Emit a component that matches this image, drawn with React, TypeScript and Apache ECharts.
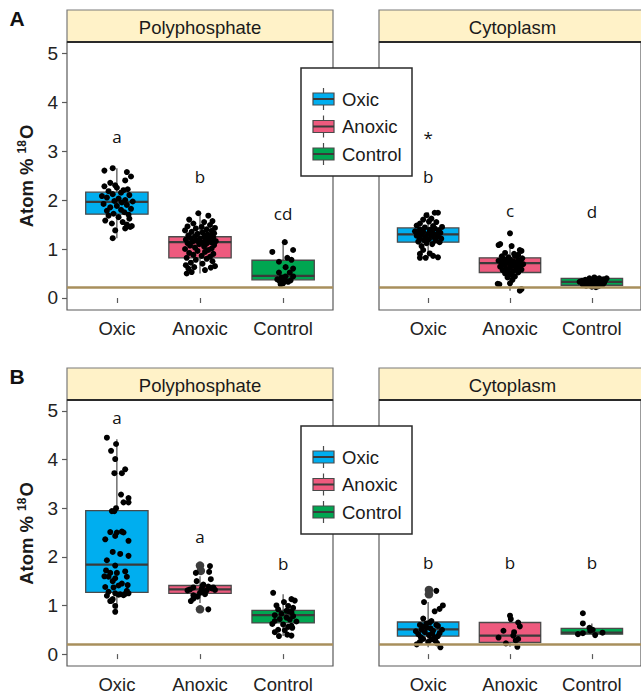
import React, { useEffect, useRef } from "react";
import * as echarts from "echarts";

const categories = ["Oxic", "Anoxic", "Control"];
const panelTitles = ["Polyphosphate", "Cytoplasm"];
const rowLabels = ["A", "B"];
const yTickValues = [0, 1, 2, 3, 4, 5];
const baselineValues = [0.22, 0.21];

// box stats: [lower whisker, Q1, median, Q3, upper whisker]
const boxA_Poly = [
  [1.22, 1.71, 1.96, 2.16, 2.65],
  [0.5, 0.82, 1.14, 1.25, 1.73],
  [0.27, 0.37, 0.45, 0.77, 1.14],
];
const boxA_Cyto = [
  [0.82, 1.14, 1.3, 1.43, 1.75],
  [0.15, 0.52, 0.71, 0.82, 1.1],
  [0.22, 0.26, 0.33, 0.4, 0.42],
];
const boxB_Poly = [
  [0.86, 1.27, 1.84, 2.95, 4.42],
  [1.05, 1.25, 1.33, 1.41, 1.6],
  [0.37, 0.64, 0.8, 0.9, 1.23],
];
const boxB_Cyto = [
  [0.14, 0.37, 0.51, 0.66, 1.07],
  [0.15, 0.24, 0.38, 0.65, 0.79],
  [0.39, 0.41, 0.44, 0.53, 0.63],
];

// letters: [category index, y, text]
const lettersA_Poly = [[0, 3.3, "a"], [1, 2.47, "b"], [2, 1.73, "cd"]];
const lettersA_Cyto = [[0, 3.28, "*"], [0, 2.49, "b"], [1, 1.78, "c"], [2, 1.76, "d"]];
const lettersB_Poly = [[0, 4.86, "a"], [1, 2.42, "a"], [2, 1.87, "b"]];
const lettersB_Cyto = [[0, 1.88, "b"], [1, 1.88, "b"], [2, 1.88, "b"]];

// jittered points: [jitter offset, value]
const ptsA_Poly_Oxic = [
  [-0.05, 2.65], [-0.15, 2.6], [0.12, 2.57], [0.17, 2.48], [0.1, 2.4], [-0.08, 2.35], [-0.02, 2.3],
  [-0.15, 2.28], [0.0, 2.25], [0.08, 2.2], [-0.1, 2.18], [0.05, 2.15], [-0.05, 2.12], [0.15, 2.1],
  [-0.12, 2.05], [0.02, 2.03], [0.1, 2.0], [-0.03, 1.98], [0.06, 1.95], [-0.16, 1.92], [0.12, 1.9],
  [0.0, 1.88], [-0.08, 1.85], [0.17, 1.82], [0.05, 1.8], [-0.12, 1.78], [0.09, 1.75], [-0.04, 1.72],
  [0.14, 1.7], [-0.1, 1.68], [0.02, 1.65], [0.15, 1.62], [-0.14, 1.58], [0.07, 1.55], [-0.06, 1.52],
  [0.12, 1.5], [0.18, 1.47], [0.16, 1.45], [0.1, 1.42], [-0.02, 1.38], [-0.05, 1.22], [-0.18, 2.08],
  [0.13, 2.22], [0.19, 1.97],
];
const ptsA_Poly_Anoxic = [
  [-0.02, 1.73], [0.1, 1.68], [-0.13, 1.6], [0.15, 1.57], [0.05, 1.55], [-0.08, 1.52], [0.12, 1.49],
  [-0.15, 1.46], [0.02, 1.45], [0.18, 1.43], [-0.05, 1.42], [0.08, 1.4], [-0.18, 1.38], [0.14, 1.37],
  [-0.1, 1.35], [0.03, 1.34], [0.17, 1.32], [-0.03, 1.31], [0.09, 1.3], [-0.14, 1.28], [0.12, 1.27],
  [-0.06, 1.26], [0.05, 1.25], [0.16, 1.23], [-0.11, 1.22], [0.0, 1.21], [0.1, 1.2], [-0.17, 1.19],
  [0.07, 1.18], [-0.04, 1.17], [0.19, 1.16], [-0.09, 1.15], [0.13, 1.14], [0.02, 1.13], [-0.15, 1.12],
  [0.08, 1.11], [-0.01, 1.1], [0.17, 1.08], [-0.12, 1.07], [0.05, 1.05], [-0.06, 1.03], [0.14, 1.01],
  [-0.18, 1.0], [0.1, 0.98], [-0.03, 0.96], [0.06, 0.94], [-0.13, 0.92], [0.16, 0.9], [-0.08, 0.88],
  [0.02, 0.86], [0.12, 0.84], [-0.16, 0.82], [0.08, 0.8], [-0.05, 0.78], [0.15, 0.75], [-0.11, 0.72],
  [0.03, 0.7], [-0.17, 0.67], [0.18, 0.65], [-0.07, 0.63], [0.13, 0.62], [-0.14, 0.6], [0.06, 0.57],
  [-0.1, 0.53], [-0.16, 0.5],
];
const ptsA_Poly_Control = [
  [0.02, 1.14], [-0.13, 0.94], [0.12, 0.98], [0.05, 0.82], [-0.05, 0.74], [0.1, 0.78], [0.03, 0.63],
  [0.12, 0.6], [-0.05, 0.52], [0.08, 0.52], [0.12, 0.44], [0.03, 0.44], [-0.02, 0.42], [-0.07, 0.38],
  [0.02, 0.37], [-0.04, 0.34], [0.06, 0.33], [0.0, 0.3], [-0.03, 0.28], [0.09, 0.36],
];
const ptsA_Cyto_Oxic = [
  [0.12, 1.74], [0.08, 1.74], [-0.02, 1.69], [-0.06, 1.6], [0.04, 1.62], [-0.1, 1.52], [0.01, 1.56],
  [0.1, 1.55], [0.06, 1.47], [-0.14, 1.48], [0.17, 1.45], [-0.04, 1.44], [0.08, 1.42], [-0.1, 1.4],
  [0.02, 1.39], [0.13, 1.38], [-0.16, 1.36], [-0.06, 1.35], [0.05, 1.34], [0.15, 1.33], [-0.12, 1.32],
  [0.0, 1.31], [0.1, 1.3], [-0.08, 1.29], [0.04, 1.28], [-0.14, 1.27], [0.12, 1.26], [-0.03, 1.25],
  [0.07, 1.24], [-0.1, 1.22], [0.16, 1.21], [0.01, 1.2], [-0.05, 1.18], [0.09, 1.17], [-0.12, 1.15],
  [0.14, 1.14], [-0.02, 1.12], [0.05, 1.1], [-0.08, 1.06], [-0.06, 0.98], [-0.1, 0.9], [0.02, 0.91],
  [0.06, 0.86], [-0.1, 0.82], [-0.03, 0.82], [0.12, 0.83],
];
const ptsA_Cyto_Anoxic = [
  [0.0, 1.32], [-0.14, 1.08], [-0.12, 1.1], [0.02, 1.06], [0.12, 0.98], [0.14, 0.96], [-0.06, 0.92],
  [0.05, 0.9], [0.1, 0.88], [-0.1, 0.85], [0.06, 0.86], [-0.02, 0.83], [0.15, 0.81], [-0.08, 0.8],
  [0.0, 0.79], [0.1, 0.78], [-0.14, 0.76], [0.04, 0.75], [-0.04, 0.74], [0.13, 0.73], [-0.1, 0.72],
  [0.07, 0.71], [-0.01, 0.7], [0.16, 0.69], [-0.07, 0.68], [0.03, 0.66], [0.11, 0.65], [-0.12, 0.64],
  [0.0, 0.62], [0.08, 0.61], [-0.05, 0.6], [0.14, 0.58], [-0.09, 0.57], [0.04, 0.55], [-0.02, 0.53],
  [0.1, 0.52], [-0.06, 0.5], [0.02, 0.47], [0.06, 0.44], [-0.03, 0.42], [0.03, 0.37], [-0.15, 0.29],
  [-0.13, 0.28], [0.0, 0.3], [0.14, 0.18], [0.12, 0.15],
];
const ptsA_Cyto_Control = [
  [-0.15, 0.33], [-0.12, 0.35], [-0.1, 0.3], [-0.08, 0.37], [-0.06, 0.32], [-0.05, 0.28], [-0.03, 0.4],
  [-0.02, 0.34], [0.0, 0.3], [0.01, 0.36], [0.02, 0.26], [0.03, 0.42], [0.04, 0.32], [0.05, 0.38],
  [0.06, 0.28], [0.07, 0.34], [0.08, 0.24], [0.09, 0.4], [0.1, 0.3], [0.11, 0.36], [0.12, 0.33],
  [0.13, 0.27], [0.14, 0.38], [0.15, 0.31], [0.16, 0.35], [-0.07, 0.25], [0.0, 0.23], [0.05, 0.22],
  [-0.11, 0.27], [0.18, 0.4],
];
const ptsB_Poly_Oxic = [
  [-0.12, 4.45], [-0.01, 4.32], [-0.07, 4.18], [-0.02, 4.01], [-0.03, 3.72], [0.06, 3.72], [0.1, 3.8],
  [0.05, 3.28], [0.14, 3.21], [0.08, 3.12], [0.14, 3.12], [-0.03, 2.94], [-0.01, 3.0], [-0.06, 2.94],
  [-0.08, 2.51], [0.0, 2.5], [0.06, 2.52], [0.08, 2.5], [-0.14, 2.36], [-0.02, 2.43], [0.14, 2.33],
  [0.04, 2.06], [0.14, 2.02], [-0.12, 1.93], [-0.02, 1.82], [-0.13, 1.72], [-0.08, 1.67], [0.0, 1.67],
  [-0.1, 1.59], [-0.02, 1.56], [0.12, 1.59], [-0.05, 1.5], [0.02, 1.41], [0.13, 1.42], [-0.14, 1.38],
  [-0.04, 1.37], [-0.1, 1.28], [-0.02, 1.25], [0.04, 1.23], [0.1, 1.24], [0.14, 1.25], [-0.08, 1.09],
  [-0.05, 1.13], [-0.02, 0.99], [-0.02, 0.87], [0.08, 1.21], [-0.12, 1.2], [0.06, 1.45], [-0.06, 1.1],
  [0.12, 1.3], [0.02, 1.22], [-0.15, 1.6], [0.1, 1.7], [-0.05, 2.1],
];
const ptsB_Poly_Anoxic = [
  [0.12, 1.81], [0.11, 1.69], [-0.05, 1.67], [0.13, 1.54], [-0.04, 1.5], [-0.08, 1.37], [0.04, 1.43],
  [0.1, 1.39], [0.16, 1.37], [0.02, 1.34], [0.08, 1.31], [-0.15, 1.31], [0.0, 1.26], [-0.08, 1.21],
  [0.06, 1.23], [0.14, 1.35], [-0.11, 1.09], [-0.08, 1.14], [-0.03, 1.18], [0.1, 0.92], [0.05, 1.28],
  [-0.12, 1.33], [0.18, 1.32], [0.03, 1.4],
];
const outB_Poly_Anoxic = [[0.0, 1.82], [0.01, 1.71], [0.0, 0.92]];
const ptsB_Poly_Control = [
  [-0.12, 1.26], [0.1, 1.13], [0.14, 1.1], [0.01, 1.07], [-0.08, 1.0], [0.06, 0.99], [0.12, 0.95],
  [-0.06, 0.92], [0.04, 0.89], [0.1, 0.86], [-0.02, 0.83], [-0.1, 0.8], [0.12, 0.78], [0.04, 0.75],
  [-0.04, 0.72], [0.08, 0.71], [0.16, 0.67], [-0.1, 0.68], [0.0, 0.61], [0.1, 0.58], [0.06, 0.56],
  [-0.06, 0.5], [0.02, 0.49], [0.11, 0.54], [-0.05, 0.37], [0.05, 0.4], [-0.1, 0.45], [0.1, 0.38],
  [0.07, 0.88], [-0.13, 0.62],
];
const ptsB_Cyto_Oxic = [
  [0.1, 1.3], [-0.05, 1.07], [0.18, 1.0], [0.14, 0.93], [0.08, 0.88], [-0.06, 0.73], [0.04, 0.68],
  [-0.02, 0.63], [-0.1, 0.6], [0.12, 0.58], [0.03, 0.53], [-0.08, 0.5], [0.06, 0.48], [-0.04, 0.45],
  [0.14, 0.43], [-0.12, 0.41], [0.01, 0.39], [0.08, 0.34], [-0.06, 0.31], [0.04, 0.3], [-0.1, 0.25],
  [0.0, 0.25], [0.11, 0.22], [0.15, 0.14], [-0.14, 0.2], [0.1, 0.6], [-0.02, 0.55], [0.12, 0.37],
  [-0.09, 0.35], [0.05, 0.42], [-0.15, 0.47], [0.17, 0.5], [0.02, 0.65], [-0.07, 0.57], [0.09, 0.27],
];
const outB_Cyto_Oxic = [[0.01, 1.32], [0.01, 1.23]];
const ptsB_Cyto_Anoxic = [
  [0.0, 0.79], [0.01, 0.72], [0.1, 0.65], [0.12, 0.57], [-0.08, 0.48], [0.05, 0.45], [-0.14, 0.34],
  [0.04, 0.38], [0.1, 0.31], [0.07, 0.28], [0.09, 0.15], [-0.05, 0.22],
];
const ptsB_Cyto_Control = [
  [-0.11, 0.84], [-0.11, 0.63], [-0.03, 0.54], [0.01, 0.5], [-0.11, 0.43], [-0.02, 0.48], [0.04, 0.39],
  [0.13, 0.44], [-0.17, 0.41],
];

const boxColors = ["#00AEEF", "#EE5A7E", "#00A651"];
const FONT = "'Liberation Sans', Arial, sans-serif";

const panelData = [
  { row: 0, col: 0, boxes: boxA_Poly, pts: [ptsA_Poly_Oxic, ptsA_Poly_Anoxic, ptsA_Poly_Control], outs: [[], [], []], letters: lettersA_Poly },
  { row: 0, col: 1, boxes: boxA_Cyto, pts: [ptsA_Cyto_Oxic, ptsA_Cyto_Anoxic, ptsA_Cyto_Control], outs: [[], [], []], letters: lettersA_Cyto },
  { row: 1, col: 0, boxes: boxB_Poly, pts: [ptsB_Poly_Oxic, ptsB_Poly_Anoxic, ptsB_Poly_Control], outs: [[], outB_Poly_Anoxic, []], letters: lettersB_Poly },
  { row: 1, col: 1, boxes: boxB_Cyto, pts: [ptsB_Cyto_Oxic, ptsB_Cyto_Anoxic, ptsB_Cyto_Control], outs: [outB_Cyto_Oxic, [], []], letters: lettersB_Cyto },
];

const L = {
  left: [67, 379],
  width: [266, 267],
  top: [42, 400],
  height: [268, 267],
  stripTop: [10, 368],
  legendTop: [68, 426],
};

function buildOption() {
  const grid: any[] = [];
  const xAxis: any[] = [];
  const yAxis: any[] = [];
  const series: any[] = [];
  const graphic: any[] = [];

  panelData.forEach((p, i) => {
    grid.push({
      left: L.left[p.col],
      top: L.top[p.row],
      width: L.width[p.col],
      height: L.height[p.row],
      show: true,
      borderColor: "#5a5a5a",
      borderWidth: 1.2,
      containLabel: false,
    });
    xAxis.push({
      type: "value",
      gridIndex: i,
      min: 0.4,
      max: 3.6,
      axisLine: { show: false },
      splitLine: { show: false },
      axisTick: { show: true, customValues: [1, 2, 3], length: 5, lineStyle: { color: "#5a5a5a", width: 1.2 } },
      axisLabel: {
        show: true,
        customValues: [1, 2, 3],
        formatter: (v: number) => categories[Math.round(v) - 1] || "",
        fontSize: 18.5,
        fontFamily: FONT,
        color: "#222",
        margin: 9,
      },
    });
    yAxis.push({
      type: "value",
      gridIndex: i,
      min: -0.245,
      max: 5.225,
      axisLine: { show: false },
      splitLine: { show: false },
      axisTick: { show: p.col === 0, customValues: yTickValues, length: 5, lineStyle: { color: "#5a5a5a", width: 1.2 } },
      axisLabel: {
        show: p.col === 0,
        customValues: yTickValues,
        fontSize: 19,
        fontFamily: FONT,
        color: "#222",
        margin: 9,
      },
    });

    series.push({
      type: "custom",
      xAxisIndex: i,
      yAxisIndex: i,
      silent: true,
      z: 2,
      data: p.boxes.map((b, k) => [k + 1, b[0], b[1], b[2], b[3], b[4], k]),
      encode: { x: 0, y: [1, 2, 3, 4, 5] },
      renderItem: (params: any, api: any) => {
        const x = api.value(0);
        const lo = api.coord([x, api.value(1)]);
        const q1 = api.coord([x, api.value(2)]);
        const med = api.coord([x, api.value(3)]);
        const q3 = api.coord([x, api.value(4)]);
        const hi = api.coord([x, api.value(5)]);
        const c = api.value(6);
        const w = api.size([0.75, 0])[0];
        const stroke = "#4a4a4a";
        return {
          type: "group",
          children: [
            { type: "line", shape: { x1: hi[0], y1: hi[1], x2: q3[0], y2: q3[1] }, style: { stroke, lineWidth: 1.2 } },
            { type: "line", shape: { x1: q1[0], y1: q1[1], x2: lo[0], y2: lo[1] }, style: { stroke, lineWidth: 1.2 } },
            {
              type: "rect",
              shape: { x: q3[0] - w / 2, y: q3[1], width: w, height: q1[1] - q3[1] },
              style: { fill: boxColors[c], stroke, lineWidth: 1.3 },
            },
            { type: "line", shape: { x1: med[0] - w / 2, y1: med[1], x2: med[0] + w / 2, y2: med[1] }, style: { stroke: "#3a3a3a", lineWidth: 2.2 } },
          ],
        };
      },
    });

    const outData: number[][] = [];
    p.outs.forEach((arr, k) => arr.forEach(([dx, v]) => outData.push([k + 1 + dx, v])));
    series.push({
      type: "scatter",
      xAxisIndex: i,
      yAxisIndex: i,
      silent: true,
      z: 3,
      symbolSize: 8.5,
      itemStyle: { color: "#3d3d3d", opacity: 1 },
      data: outData,
    });

    const ptData: number[][] = [];
    p.pts.forEach((arr, k) => arr.forEach(([dx, v]) => ptData.push([k + 1 + dx, v])));
    series.push({
      type: "scatter",
      xAxisIndex: i,
      yAxisIndex: i,
      silent: true,
      z: 4,
      symbolSize: 6,
      itemStyle: { color: "#000", opacity: 1 },
      data: ptData,
      markLine: {
        silent: true,
        symbol: "none",
        label: { show: false },
        lineStyle: { color: "#A88F5C", width: 2.5, type: "solid", opacity: 1 },
        data: [{ yAxis: baselineValues[p.row] }],
        z: 5,
      },
    });

    series.push({
      type: "scatter",
      xAxisIndex: i,
      yAxisIndex: i,
      silent: true,
      z: 6,
      symbolSize: 1,
      itemStyle: { color: "rgba(0,0,0,0)" },
      label: {
        show: true,
        position: "inside",
        formatter: (d: any) => d.name,
        fontSize: 17,
        fontFamily: "'Open Sans', 'Noto Sans', sans-serif",
        color: "#111",
        textBorderWidth: 0,
        opacity: 1,
      },
      data: p.letters.map((l: any) => ({ name: l[2], value: [l[0] + 1, l[1]] })),
    });

    // strip
    const sx = L.left[p.col];
    const sw = L.width[p.col];
    const st = L.stripTop[p.row];
    const sh = L.top[p.row] - st;
    graphic.push({
      type: "rect",
      shape: { x: sx, y: st, width: sw, height: sh },
      style: { fill: "#FFF2C8", stroke: "#7a7a7a", lineWidth: 1.2 },
      z: 10,
    });
    graphic.push({
      type: "line",
      shape: { x1: sx, y1: st + sh, x2: sx + sw, y2: st + sh },
      style: { stroke: "#2a2a2a", lineWidth: 2 },
      z: 11,
    });
    graphic.push({
      type: "text",
      x: sx + sw / 2,
      y: st + sh / 2 + 1,
      style: {
        text: panelTitles[p.col],
        fontSize: 18.5,
        fontFamily: FONT,
        fill: "#1a1a1a",
        align: "center",
        verticalAlign: "middle",
        textAlign: "center",
        textVerticalAlign: "middle",
      },
      z: 12,
    });
  });

  rowLabels.forEach((lab, r) => {
    graphic.push({
      type: "text",
      x: 17,
      y: L.stripTop[r] + 8,
      style: {
        text: lab,
        fontSize: 21,
        fontWeight: "bold",
        fontFamily: FONT,
        fill: "#111",
        align: "center",
        verticalAlign: "middle",
        textAlign: "center",
        textVerticalAlign: "middle",
      },
      z: 12,
    });
    graphic.push({
      type: "text",
      x: 26,
      y: L.top[r] + L.height[r] / 2,
      rotation: Math.PI / 2,
      style: {
        text: "{t|Atom % }{s|18}{t|O}",
        align: "center",
        verticalAlign: "middle",
        textAlign: "center",
        textVerticalAlign: "middle",
        fill: "#1a1a1a",
        rich: {
          t: { fontSize: 18.5, fontWeight: "bold", fontFamily: FONT, fill: "#1a1a1a" },
          s: { fontSize: 12, fontWeight: "bold", fontFamily: FONT, fill: "#1a1a1a", padding: [0, 1, 9, 0] },
        },
      },
      z: 12,
    });

    // legend box
    const lt = L.legendTop[r];
    const children: any[] = [
      { type: "rect", shape: { x: 301, y: lt, width: 111, height: 108 }, style: { fill: "#fff", stroke: "#2a2a2a", lineWidth: 1.5 } },
    ];
    categories.forEach((cat, k) => {
      const cy = lt + 31 + k * 27.5;
      children.push({ type: "line", shape: { x1: 323.5, y1: cy - 11, x2: 323.5, y2: cy + 11 }, style: { stroke: "#4a4a4a", lineWidth: 1.2 } });
      children.push({ type: "rect", shape: { x: 313, y: cy - 6, width: 21, height: 12 }, style: { fill: boxColors[k], stroke: "#4a4a4a", lineWidth: 1.2 } });
      children.push({ type: "line", shape: { x1: 313, y1: cy, x2: 334, y2: cy }, style: { stroke: "#3a3a3a", lineWidth: 2 } });
      children.push({
        type: "text",
        x: 342,
        y: cy,
        style: {
          text: cat,
          fontSize: 18.5,
          fontFamily: FONT,
          fill: "#1a1a1a",
          align: "left",
          verticalAlign: "middle",
          textAlign: "left",
          textVerticalAlign: "middle",
        },
      });
    });
    graphic.push({ type: "group", z: 20, children });
  });

  return {
    animation: false,
    backgroundColor: "#fff",
    grid,
    xAxis,
    yAxis,
    series,
    graphic,
  };
}

export default function App() {
  const ref = useRef<HTMLDivElement>(null);
  useEffect(() => {
    if (!ref.current) return;
    const chart = echarts.init(ref.current, undefined, { renderer: "svg" });
    chart.setOption(buildOption() as any);
    return () => chart.dispose();
  }, []);
  return (
    <div
      ref={ref}
      style={{ position: "absolute", left: 0, top: 0, width: 641, height: 694, background: "#fff" }}
    />
  );
}
